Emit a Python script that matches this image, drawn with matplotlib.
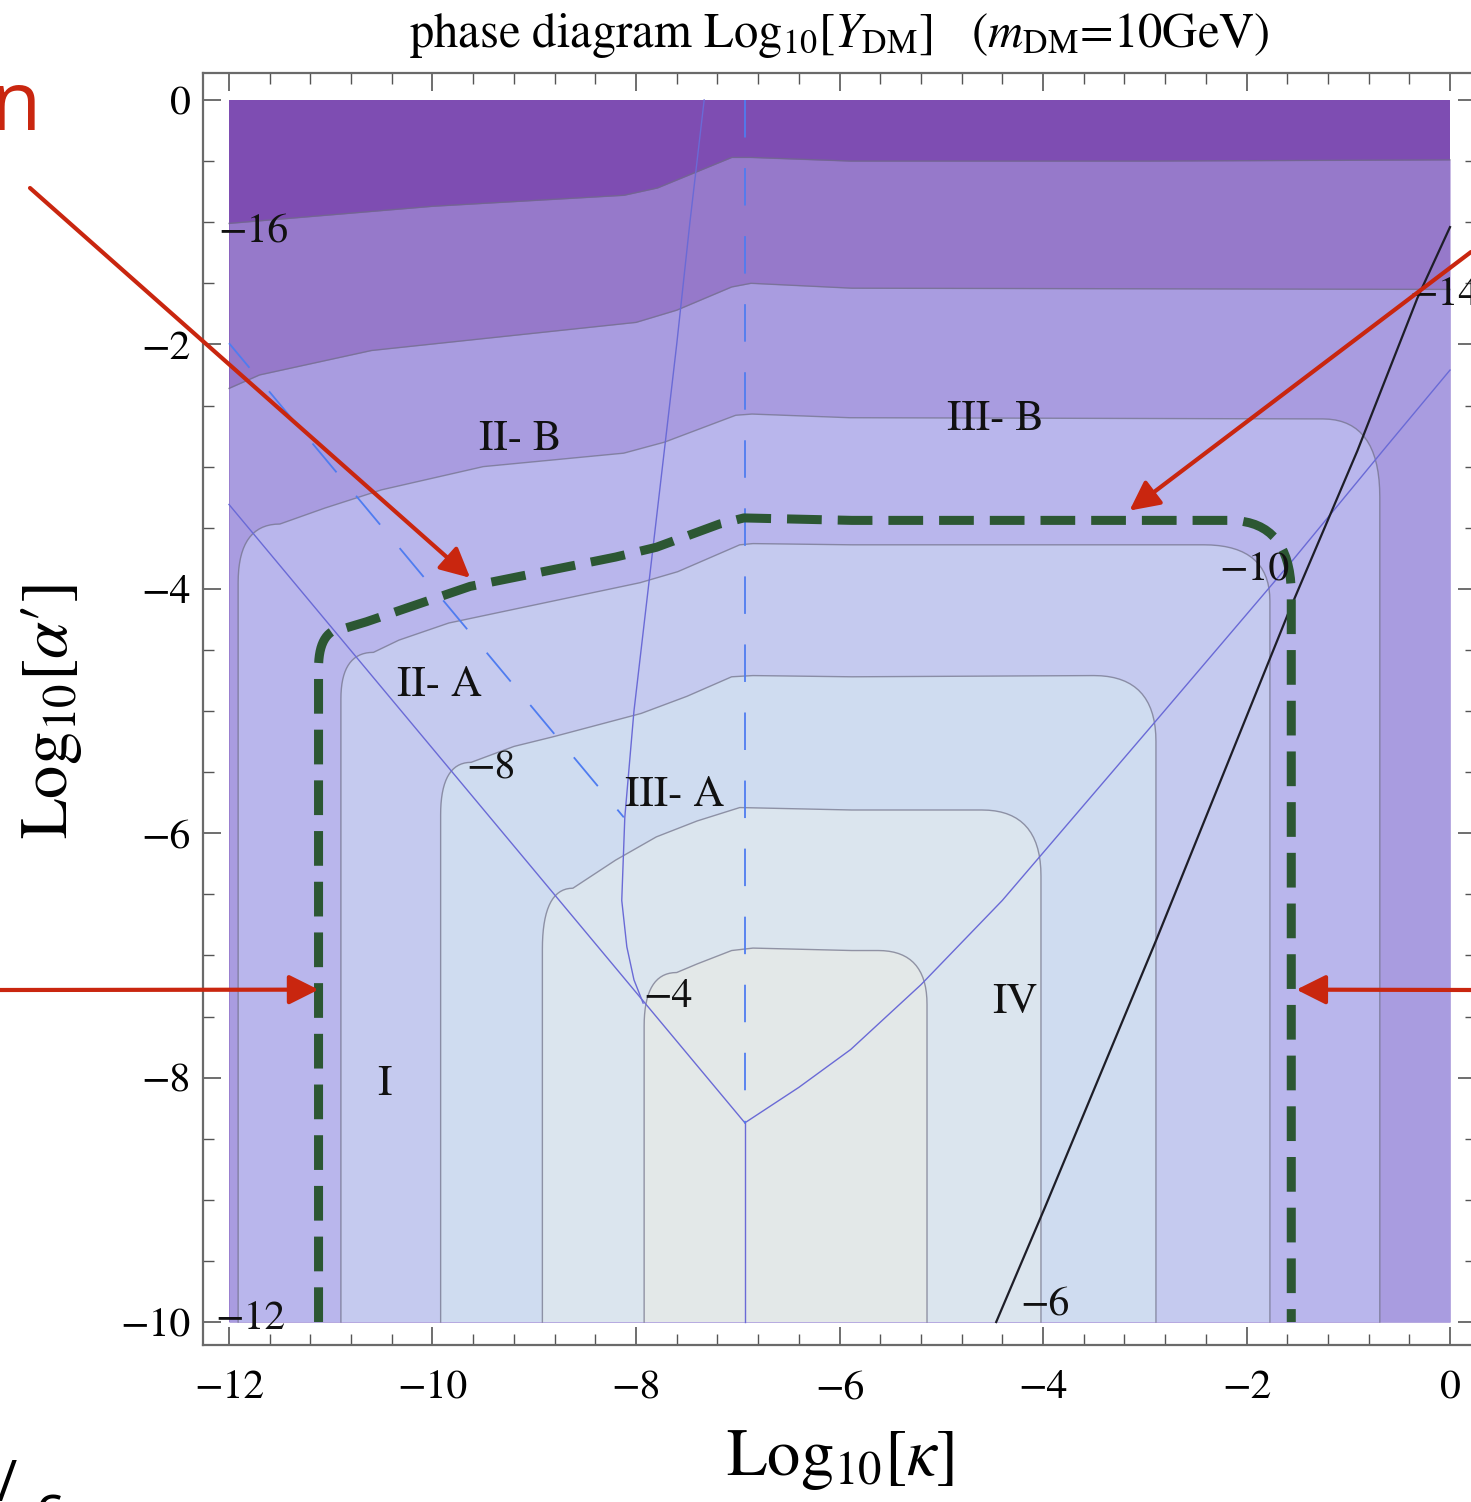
import numpy as np
import matplotlib
matplotlib.use("Agg")
import matplotlib.pyplot as plt
from matplotlib.ticker import MultipleLocator

plt.rcParams['font.family'] = ['STIXGeneral', 'DejaVu Serif']
plt.rcParams['mathtext.fontset'] = 'stix'
plt.rcParams['lines.scale_dashes'] = False
plt.rcParams['axes.unicode_minus'] = True

# ---------------- data ----------------
levels = [-16, -14, -12, -10, -8, -6, -4]
band_colors = ['#7e4db2', '#9679ca', '#a99ce0', '#b9b6ec',
               '#c5caef', '#cfdcf0', '#dbe5ee', '#e3e8e8']

# open contours spanning the full width
c16_x = [-12.0, -10.0, -8.12, -7.79, -7.06, -6.87, -5.89, -3.0, 0.0]
c16_y = [-1.01, -0.87, -0.78, -0.72, -0.47, -0.47, -0.50, -0.50, -0.49]
c14_x = [-12.0, -11.7, -10.6, -8.0, -7.6, -7.06, -6.87, -5.88, 0.0]
c14_y = [-2.36, -2.25, -2.05, -1.82, -1.72, -1.53, -1.50, -1.54, -1.55]

# closed contours: left side x, top of left side, top edge, right side x, top of right side
c12_left, c12_yl, c12_right, c12_yr = -11.91, -3.95, -0.69, -3.25
c12_top_x = [-11.50, -11.06, -10.5, -9.5, -8.12, -7.72, -7.02, -6.86, -5.9, -1.25]
c12_top_y = [-3.47, -3.34, -3.19, -3.00, -2.89, -2.80, -2.58, -2.57, -2.60, -2.61]

c10_left, c10_yl, c10_right, c10_yr = -10.90, -4.90, -1.77, -4.10
c10_top_x = [-10.58, -10.33, -9.84, -7.96, -7.59, -6.98, -6.85, -5.88, -2.42]
c10_top_y = [-4.52, -4.42, -4.28, -3.95, -3.86, -3.64, -3.63, -3.64, -3.64]

c8_left, c8_yl, c8_right, c8_yr = -9.92, -5.85, -2.89, -5.25
c8_top_x = [-9.62, -9.2, -8.81, -7.95, -7.5, -7.06, -6.85, -5.88, -3.50]
c8_top_y = [-5.42, -5.29, -5.21, -5.02, -4.88, -4.72, -4.71, -4.72, -4.71]

c6_left, c6_yl, c6_right, c6_yr = -8.92, -6.95, -4.02, -6.35
c6_top_x = [-8.62, -8.20, -7.80, -7.40, -6.98, -5.88, -4.60]
c6_top_y = [-6.45, -6.22, -6.03, -5.90, -5.79, -5.81, -5.81]

c4_left, c4_yl, c4_right, c4_yr = -7.92, -7.58, -5.14, -7.40
c4_top_x = [-7.60, -7.40, -7.06, -6.85, -5.88, -5.62]
c4_top_y = [-7.14, -7.07, -6.96, -6.94, -6.96, -6.96]

# thick green dashed boundary
g_left, g_yl, g_right, g_yr = -11.12, -4.65, -1.56, -4.05
g_top_x = [-10.85, -10.65, -9.63, -8.2, -7.8, -7.18, -6.94, -5.88, -2.17]
g_top_y = [-4.32, -4.27, -3.98, -3.74, -3.66, -3.47, -3.42, -3.44, -3.44]

# thin blue/purple solid phase boundaries
vleft_x = [-12.0, -6.93]
vleft_y = [-3.31, -8.37]
vright_x = [-6.93, -6.4, -5.89, -5.2, -4.4, -2.91, -1.54, -0.65, 0.0]
vright_y = [-8.37, -8.08, -7.77, -7.24, -6.55, -5.10, -3.76, -2.86, -2.21]
vstem_x = [-6.93, -6.93]
vstem_y = [-8.37, -10.0]
curve_x = [-7.33, -7.47, -7.60, -7.74, -7.88, -8.02, -8.11, -8.14, -8.09, -8.02, -7.93]
curve_y = [0.0, -1.0, -2.0, -3.0, -4.0, -5.0, -5.87, -6.55, -6.93, -7.20, -7.39]

# blue dashed lines
bdv_x = [-6.93, -6.93]
bdv_y = [0.0, -8.37]
bdd_x = [-12.0, -8.12]
bdd_y = [-1.99, -5.87]

# black line
blk_x = [-4.46, -3.98, -2.89, -1.58, -0.91, -0.32, 0.0]
blk_y = [-10.0, -9.06, -6.88, -4.18, -2.87, -1.62, -1.04]

# labels
contour_labels = ['−16', '−14', '−10', '−8', '−4', '−6', '−12']
contour_lab_x = [-11.76, -0.05, -1.92, -9.43, -7.69, -3.98, -11.79]
contour_lab_y = [-1.08, -1.60, -3.85, -5.47, -7.34, -9.86, -9.98]
region_labels = ['II- B', 'III- B', 'II- A', 'III- A', 'I', 'IV']
region_x = [-9.14, -4.47, -9.93, -7.62, -10.47, -4.28]
region_y = [-2.78, -2.62, -4.79, -5.69, -8.06, -7.39]

# red arrows: head (data coords) and tail (figure pixels)
arrow_head_x = [-9.63, -3.15, -11.12, -1.51]
arrow_head_y = [-3.91, -3.36, -7.28, -7.28]
arrow_tail_px = [(30, 1314), (1471, 1250), (0, 512), (1471, 512)]

# ---------------- drawing ----------------
W, H = 1471, 1502
fig = plt.figure(figsize=(W / 100, H / 100), dpi=100)
ax = fig.add_axes([203 / W, 157 / H, 1273 / W, 1272 / H])
ax.set_xlim(-12.2555, 0.2555)
ax.set_ylim(-10.188, 0.221)


def qbez(p0, c, p1, n=18):
    t = np.linspace(0, 1, n)[:, None]
    p0, c, p1 = np.array(p0), np.array(c), np.array(p1)
    return (1 - t) ** 2 * p0 + 2 * (1 - t) * t * c + t ** 2 * p1


def outline(left, yl, tx, ty, right, yr):
    pts = [np.array([[left, -10.0], [left, yl]])]
    pts.append(qbez((left, yl), (left, ty[0]), (tx[0], ty[0]))[1:])
    pts.append(np.column_stack([tx, ty])[1:])
    pts.append(qbez((tx[-1], ty[-1]), (right, ty[-1]), (right, yr))[1:])
    pts.append(np.array([[right, -10.0]]))
    p = np.vstack(pts)
    return p[:, 0], p[:, 1]


line_col = '#6f6f86'
# background band
ax.fill([-12, 0, 0, -12], [-10, -10, 0, 0], color=band_colors[0], lw=0, zorder=1)
ax.fill_between(c16_x, c16_y, -10, color=band_colors[1], lw=0, zorder=1)
ax.fill_between(c14_x, c14_y, -10, color=band_colors[2], lw=0, zorder=1)
ax.plot(c16_x, c16_y, color=line_col, lw=1.0, alpha=0.7, zorder=2)
ax.plot(c14_x, c14_y, color=line_col, lw=1.0, alpha=0.7, zorder=2)

closed = [
    (c12_left, c12_yl, c12_top_x, c12_top_y, c12_right, c12_yr),
    (c10_left, c10_yl, c10_top_x, c10_top_y, c10_right, c10_yr),
    (c8_left, c8_yl, c8_top_x, c8_top_y, c8_right, c8_yr),
    (c6_left, c6_yl, c6_top_x, c6_top_y, c6_right, c6_yr),
    (c4_left, c4_yl, c4_top_x, c4_top_y, c4_right, c4_yr),
]
for k, spec in enumerate(closed):
    xs, ys = outline(*spec)
    ax.fill(xs, ys, color=band_colors[3 + k], lw=0, zorder=1)
    ax.plot(xs, ys, color=line_col, lw=1.0, alpha=0.7, zorder=2)

# phase boundaries
blue = '#6a6ad6'
for xs, ys in [(vleft_x, vleft_y), (vright_x, vright_y), (vstem_x, vstem_y), (curve_x, curve_y)]:
    ax.plot(xs, ys, color=blue, lw=1.0, zorder=3)
dblue = '#4f7cf0'
ax.plot(bdv_x, bdv_y, color=dblue, lw=1.3, linestyle=(0, (27, 22)), zorder=3)
ax.plot(bdd_x, bdd_y, color=dblue, lw=1.3, linestyle=(4, (27, 22)), zorder=3)
ax.plot(blk_x, blk_y, color='#1e1e28', lw=1.6, zorder=3)

# green dashed boundary
gx, gy = outline(g_left, g_yl, g_top_x, g_top_y, g_right, g_yr)
ax.plot(gx, gy, color='#2c5733', lw=6.5, linestyle=(0, (25, 11.5)),
        dash_capstyle='butt', zorder=4)

# labels
for s, x, y in zip(contour_labels, contour_lab_x, contour_lab_y):
    ax.text(x, y, s, fontsize=30, ha='center', va='center', color='#111111',
            zorder=5, clip_on=False)
for s, x, y in zip(region_labels, region_x, region_y):
    ax.text(x, y, s, fontsize=31, ha='center', va='center', color='#111111', zorder=5)

# axes styling
for sp in ax.spines.values():
    sp.set_color('#6a6a6a')
    sp.set_linewidth(1.6)
ax.set_facecolor('white')
ax.xaxis.set_major_locator(MultipleLocator(2))
ax.xaxis.set_minor_locator(MultipleLocator(0.4))
ax.yaxis.set_major_locator(MultipleLocator(2))
ax.yaxis.set_minor_locator(MultipleLocator(0.5))
ax.tick_params(which='both', direction='in', top=True, right=True, color='#555555')
ax.tick_params(which='major', length=13, width=1.2, labelsize=30)
ax.tick_params(which='minor', length=8, width=1.0)
ax.tick_params(axis='x', which='major', pad=18)
ax.tick_params(axis='y', which='major', pad=9)

# titles / axis labels
fig.text(839 / W, 1 - 36 / H,
         r"phase diagram Log$_{10}$[$Y_{\mathrm{DM}}$]   ($m_{\mathrm{DM}}$=10GeV)",
         fontsize=35, ha='center', va='center')
fig.text(840 / W, 1 - 1460 / H, r"Log$_{10}$[$\kappa$]", fontsize=48,
         ha='center', va='center')
fig.text(52 / W, 1 - 712 / H, r"Log$_{10}$[$\alpha$′]", fontsize=48,
         ha='center', va='center', rotation=90)

# red annotation arrows
red = '#c9260f'
for hx, hy, (tx, ty) in zip(arrow_head_x, arrow_head_y, arrow_tail_px):
    ax.annotate('', xy=(hx, hy), xycoords='data', xytext=(tx, ty),
                textcoords='figure pixels', annotation_clip=False,
                arrowprops=dict(arrowstyle='-|>,head_length=0.6,head_width=0.3',
                                color=red, lw=3, shrinkA=0, shrinkB=0,
                                mutation_scale=30), zorder=6)

# cut-off annotation text at the figure edges (as in the reference)
fig.text(41 / W, (H - 130) / H, 'n', color=red, fontsize=59, family='Open Sans',
         ha='right', va='baseline')
fig.text(-4 / W, (H - 1501) / H, '/', color='black', fontsize=40, family='Open Sans',
         ha='left', va='baseline')
fig.text(36 / W, (H - 1525) / H, 'c', color='black', fontsize=40, family='Open Sans',
         ha='left', va='baseline')

fig.savefig('out.png', dpi=100, facecolor='white')
